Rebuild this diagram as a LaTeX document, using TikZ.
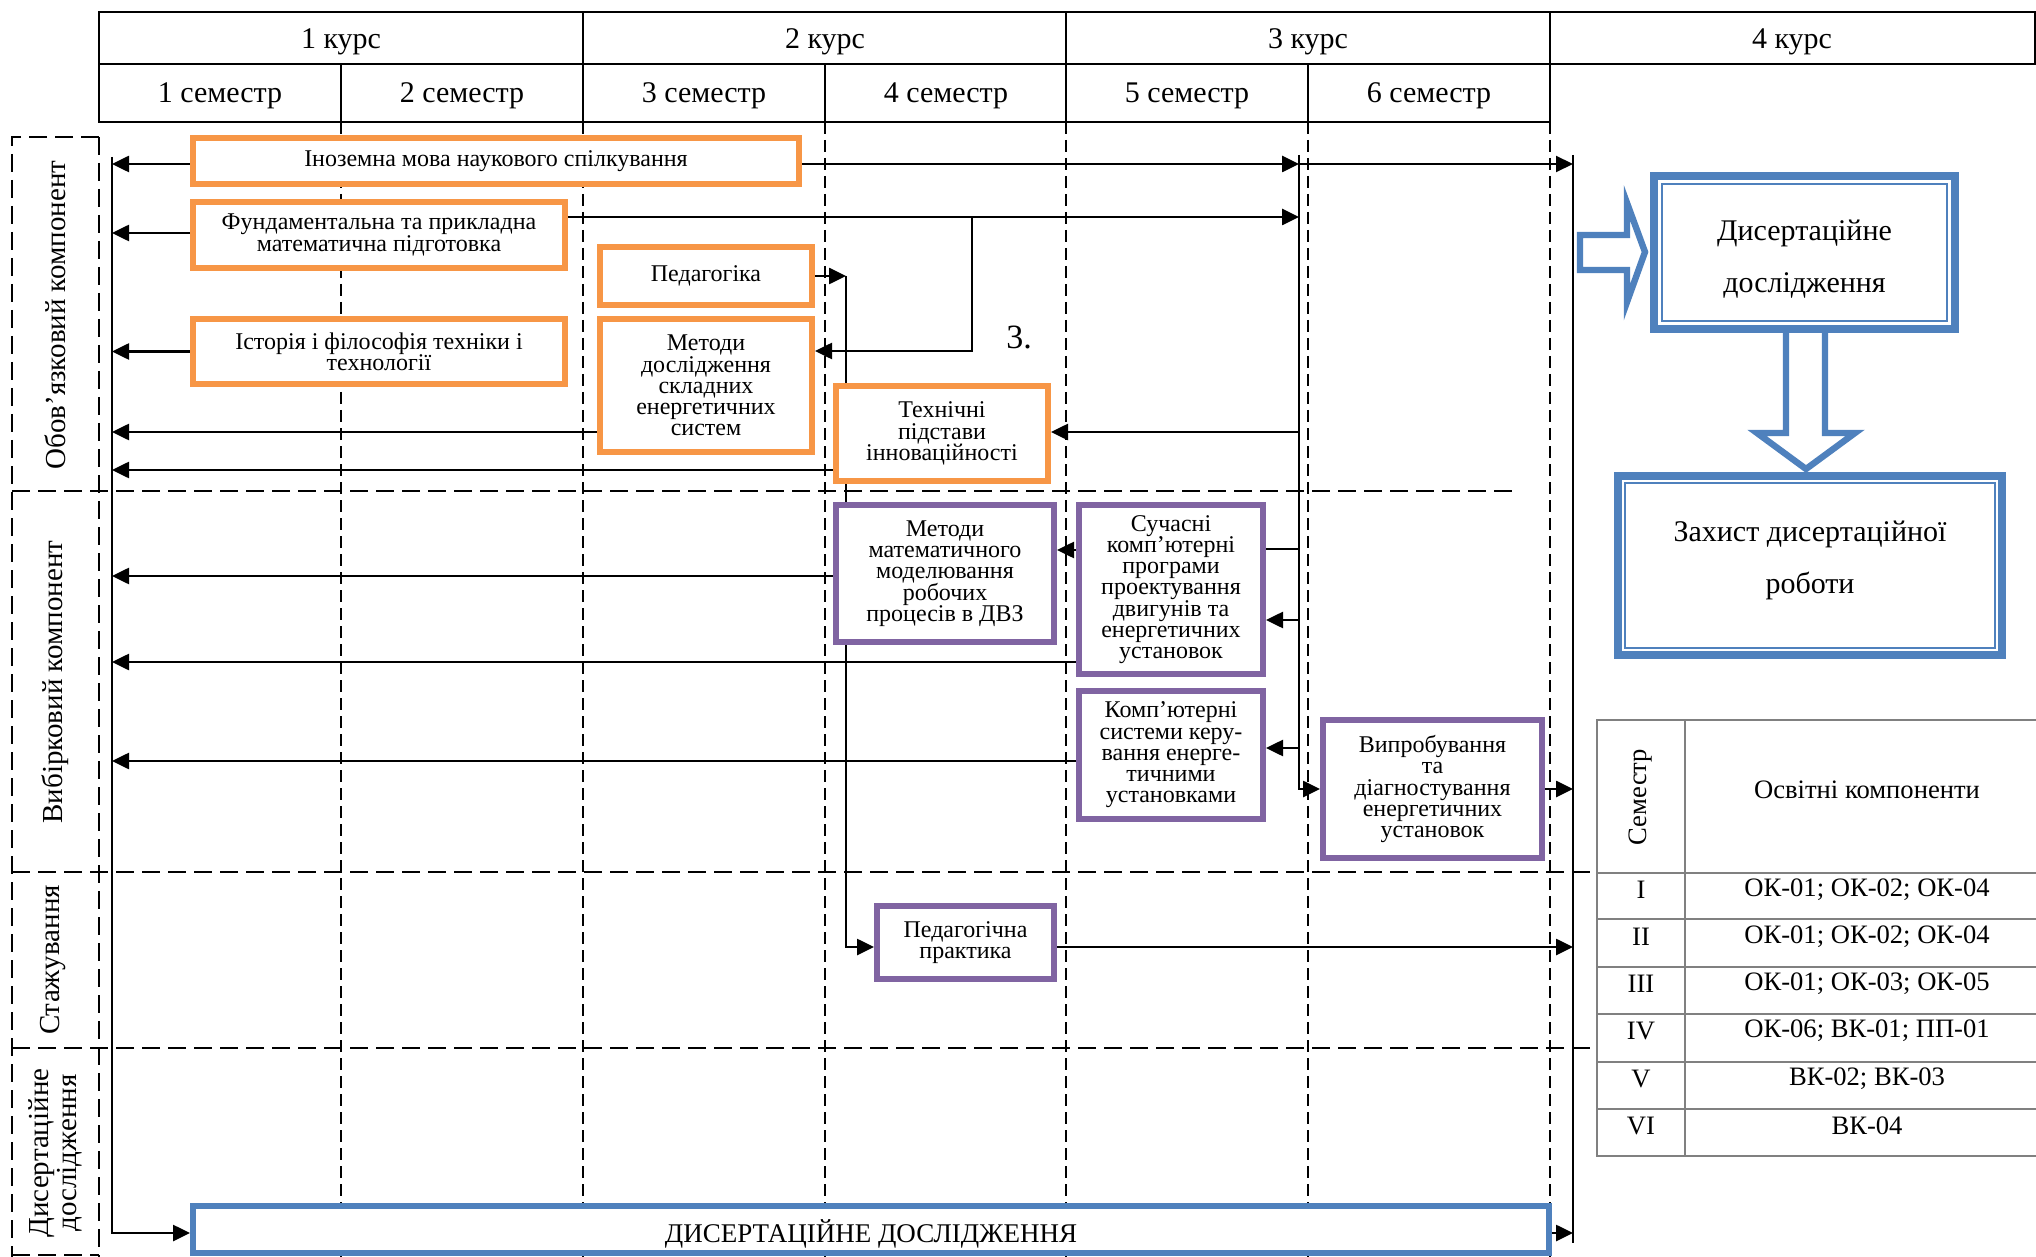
\documentclass[tikz,border=0pt]{standalone}
\usepackage{fontspec}
\setmainfont{Liberation Serif}
\usepackage{graphicx}
\usetikzlibrary{arrows.meta,backgrounds}
\definecolor{orng}{RGB}{247,150,70}
\definecolor{purp}{RGB}{128,100,162}
\definecolor{blu}{RGB}{79,129,189}
\definecolor{tgray}{RGB}{128,128,128}
\newcommand\bxfont{\fontsize{12}{10.6}\selectfont\lineskiplimit=-20pt\relax}
\newcommand\mkbox[7]{%
  \pgfmathsetmacro\bxw{(#5-#3)*0.5}%
  \pgfmathsetmacro\bxh{(#6-#4)*0.5}%
  \node[#2, minimum width=\bxw pt, minimum height=\bxh pt] (#1) at ({(#3+#5)/2},{(#4+#6)/2}) {#7};}
\tikzset{
  obox/.style={draw=orng, line width=3pt, fill=white, align=center, font=\bxfont, inner sep=1pt},
  pbox/.style={draw=purp, line width=3pt, fill=white, align=center, font=\bxfont, inner sep=1pt},
  dbox/.style={draw=blu, line width=3pt, fill=white, align=center, font=\fontsize{13.5}{15}\selectfont, inner sep=1pt},
  bigbox/.style={draw=blu, line width=4pt, fill=white, align=center, font=\fontsize{15}{26}\selectfont, inner sep=1pt},
  innerline/.style={draw=blu, line width=1.3pt},
  blockarrow/.style={draw=blu, line width=3.2pt, fill=white, line join=miter},
  arr/.style={line width=1.3pt, -{Triangle[length=8.5pt,width=8pt]}},
  conn/.style={line width=1.3pt},
  bus/.style={line width=1pt},
  hdr/.style={line width=1pt},
  griddash/.style={line width=0.7pt, dash pattern=on 6pt off 3pt},
  lanedash/.style={line width=1.1pt, dash pattern=on 9pt off 4pt},
  tline/.style={draw=tgray, line width=1.3pt},
  hdrtext/.style={font=\fontsize{15}{17}\selectfont},
  lanetext/.style={rotate=90, font=\fontsize{14.5}{14}\selectfont, align=center},
  ttext/.style={font=\fontsize{13.3}{15}\selectfont},
}
\begin{document}
\begin{tikzpicture}[x=0.5pt,y=-0.5pt]
\useasboundingbox (0,0) rectangle (2036,1257);

% ---------- header table ----------
\draw[hdr] (99,12) -- (2035,12) -- (2035,64) -- (99,64) -- cycle;
\draw[hdr] (99,64) -- (99,122) -- (1550,122) -- (1550,12);
\draw[hdr] (583,12) -- (583,122);
\draw[hdr] (1066,12) -- (1066,122);
\draw[hdr] (341,64) -- (341,122);
\draw[hdr] (825,64) -- (825,122);
\draw[hdr] (1308,64) -- (1308,122);
\node[hdrtext] (k1) at (341,42) {1 курс};
\node[hdrtext] (k2) at (825,42) {2 курс};
\node[hdrtext] (k3) at (1308,42) {3 курс};
\node[hdrtext] (k4) at (1792,42) {4 курс};
\node[hdrtext] (s1) at (220,96) {1 семестр};
\node[hdrtext] (s2) at (462,96) {2 семестр};
\node[hdrtext] (s3) at (704,96) {3 семестр};
\node[hdrtext] (s4) at (946,96) {4 семестр};
\node[hdrtext] (s5) at (1187,96) {5 семестр};
\node[hdrtext] (s6) at (1429,96) {6 семестр};

% ---------- grid ----------
\foreach \gx in {341,583,825,1066,1308,1550}
  \draw[griddash] (\gx,122) -- (\gx,1257);
\draw[lanedash] (99,137) -- (12,137) -- (12,1257);
\draw[lanedash] (99,137) -- (99,1257);
\draw[lanedash] (12,1255) -- (99,1255);
\draw[lanedash] (12,491) -- (1519,491);
\draw[lanedash] (12,872) -- (1595,872);
\draw[lanedash] (12,1048) -- (1595,1048);

\node[lanetext] (lane1) at (55,315) {Обов’язковий компонент};
\node[lanetext] (lane2) at (55,682) {Вибірковий компонент};
\node[lanetext] (lane3) at (53,960) {Стажування};
\node[lanetext] (lane4) at (55,1153) {Дисертаційне\\дослідження};

% ---------- boxes ----------
\mkbox{ino}{obox}{193}{138}{799}{184}{Іноземна мова наукового спілкування}
\mkbox{fund}{obox}{193}{202}{565}{268}{Фундаментальна та прикладна\\математична підготовка}
\mkbox{ped}{obox}{600}{247}{812}{305}{Педагогіка}
\mkbox{hist}{obox}{193}{319}{565}{384}{Історія і філософія техніки і\\технології}
\mkbox{metd}{obox}{600}{319}{812}{452}{Методи\\дослідження\\складних\\енергетичних\\систем}
\mkbox{tech}{obox}{836}{386}{1048}{481}{Технічні\\підстави\\інноваційності}
\mkbox{mmath}{pbox}{836}{505}{1054}{642}{Методи\\математичного\\моделювання\\робочих\\процесів в ДВЗ}
\mkbox{suchas}{pbox}{1079}{505}{1263}{674}{Сучасні\\комп’ютерні\\програми\\проектування\\двигунів та\\енергетичних\\установок}
\mkbox{kompsys}{pbox}{1079}{691}{1263}{819}{Комп’ютерні\\системи керу-\\вання енерге-\\тичними\\установками}
\mkbox{vyprob}{pbox}{1323}{720}{1542}{858}{Випробування\\та\\діагностування\\енергетичних\\установок}
\mkbox{pedpr}{pbox}{877}{906}{1054}{979}{Педагогічна\\практика}
\mkbox{dis}{dbox}{193}{1206}{1549}{1253}{\rule{0pt}{16pt}ДИСЕРТАЦІЙНЕ ДОСЛІДЖЕННЯ}

\node[font=\fontsize{17}{19}\selectfont] (three) at (1019,337) {3.};

% ---------- right side ----------
\draw[blockarrow] (1580,235) -- (1627,235) -- (1627,203) -- (1645,252) -- (1627,302) -- (1627,270) -- (1580,270) -- cycle;
\draw[blockarrow] (1786,329) -- (1786,433) -- (1757,433) -- (1806,469) -- (1855,433) -- (1825,433) -- (1825,329) -- cycle;
\mkbox{disr}{bigbox}{1654}{176}{1955}{329}{\rule{0pt}{17pt}Дисертаційне\\дослідження}
\draw[innerline] (1662,184) rectangle (1947,321);
\mkbox{zah}{bigbox}{1618}{476}{2002}{655}{Захист дисертаційної\\роботи\rule[-8.5pt]{0pt}{0pt}}
\draw[innerline] (1625,483) rectangle (1995,648);

% ---------- legend table ----------
\draw[tline] (2040,720) -- (1597,720) -- (1597,1156) -- (2040,1156);
\draw[tline] (1685,720) -- (1685,1156);
\foreach \ty in {873,919,967,1014,1062,1109}
  \draw[tline] (1597,\ty) -- (2040,\ty);
\node[ttext, rotate=90] (tsem) at (1641,797) {Семестр};
\node[ttext] (tosv) at (1867,790) {Освітні компоненти};
\node[ttext] (r1a) at (1641,890) {I};
\node[ttext] (r1b) at (1867,890) {ОК-01; ОК-02; ОК-04};
\node[ttext] (r2a) at (1641,937) {II};
\node[ttext] (r2b) at (1867,937) {ОК-01; ОК-02; ОК-04};
\node[ttext] (r3a) at (1641,984) {III};
\node[ttext] (r3b) at (1867,984) {ОК-01; ОК-03; ОК-05};
\node[ttext] (r4a) at (1641,1031) {IV};
\node[ttext] (r4b) at (1867,1031) {ОК-06; ВК-01; ПП-01};
\node[ttext] (r5a) at (1641,1079) {V};
\node[ttext] (r5b) at (1867,1079) {ВК-02; ВК-03};
\node[ttext] (r6a) at (1641,1126) {VI};
\node[ttext] (r6b) at (1867,1126) {ВК-04};

% ---------- connectors ----------
\coordinate (lbus) at (112,157);
\coordinate (bus1) at (1299,155);
\coordinate (bus2) at (1573,155);
\coordinate (fb) at (972,217);
\coordinate (pb) at (846,276);
\begin{pgfonlayer}{background}
\draw[bus] (bus1) -- (bus1 |- 0,760);
\draw[arr] (bus1 |- 0,760) -- (bus1 |- vyprob.west) -- (vyprob.west);
\draw[bus] (bus2) -- (bus2 |- 0,1243);
\draw[arr] (lbus) -- (lbus |- 0,1233) -- (dis.west |- 0,1233);
\draw[arr] (ino.west |- 0,164) -- (lbus |- 0,164);
\draw[arr] (ino.east |- 0,164) -- (bus1 |- 0,164);
\draw[arr, line width=1pt] (bus1 |- 0,164) -- (bus2 |- 0,164);
\draw[arr] (fund.west |- 0,233) -- (lbus |- 0,233);
\draw[arr] (fund.east |- 0,217) -- (bus1 |- 0,217);
\draw[arr] (fb) -- (fb |- 0,351) -- (metd.east |- 0,351);
\draw[arr] (hist.west) -- (hist.west -| lbus);
\draw[arr] (metd.west |- 0,432) -- (lbus |- 0,432);
\draw[arr] (tech.west |- 0,470) -- (lbus |- 0,470);
\draw[arr] (bus1 |- 0,432) -- (tech.east |- 0,432);
\draw[arr] (ped.east) -- (pb);
\draw[arr] (pb) -- (pb |- 0,947) -- (pedpr.west |- 0,947);
\draw[arr] (mmath.west |- 0,576) -- (lbus |- 0,576);
\draw[arr] (suchas.west |- 0,550) -- (mmath.east |- 0,550);
\draw[arr] (suchas.west |- 0,662) -- (lbus |- 0,662);
\draw[conn] (suchas.east |- 0,549) -- (bus1 |- 0,549);
\draw[arr] (bus1 |- 0,620) -- (suchas.east |- 0,620);
\draw[arr] (kompsys.west |- 0,761) -- (lbus |- 0,761);
\draw[arr] (bus1 |- 0,748) -- (kompsys.east |- 0,748);
\draw[arr] (vyprob.east) -- (vyprob.east -| bus2);
\draw[arr] (pedpr.east |- 0,947) -- (bus2 |- 0,947);
\draw[arr] (dis.east |- 0,1233) -- (bus2 |- 0,1233);
\end{pgfonlayer}
\end{tikzpicture}
\end{document}
